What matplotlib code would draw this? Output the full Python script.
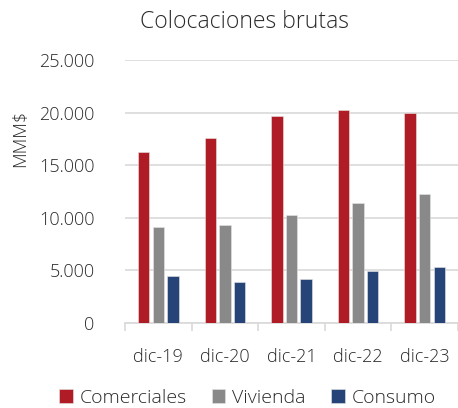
import matplotlib
matplotlib.use("Agg")
import matplotlib.pyplot as plt
import numpy as np

categories = ["dic-19", "dic-20", "dic-21", "dic-22", "dic-23"]
comerciales = [16230, 17560, 19690, 20260, 19940]
vivienda = [9140, 9330, 10290, 11370, 12260]
consumo = [4480, 3880, 4160, 4950, 5270]
yticks = [0, 5000, 10000, 15000, 20000, 25000]
ytick_labels = ["0", "5.000", "10.000", "15.000", "20.000", "25.000"]

plt.rcParams['font.family'] = ['Open Sans', 'DejaVu Sans']
plt.rcParams['font.weight'] = 'light'
text_color = "#2a2a2a"

fig = plt.figure(figsize=(4.58, 4.08), dpi=100)
ax = fig.add_axes([0.273, 0.209, 0.727, 0.643])

x = np.arange(len(categories))
w = 0.172
off = 0.22
series = [("Comerciales", comerciales, "#B01C26"),
          ("Vivienda", vivienda, "#898989"),
          ("Consumo", consumo, "#264478")]
for i, (name, vals, col) in enumerate(series):
    ax.bar(x + (i - 1) * off, vals, width=w, color=col, label=name,
           edgecolor="#e6e6e6", linewidth=0.4, zorder=3)

ax.set_xlim(-0.5, 4.5)
ax.set_ylim(0, 25000)
ax.set_yticks(yticks)
ax.set_yticklabels(ytick_labels)
ax.grid(axis='y', color="#D9D9D9", linewidth=1.2, zorder=0)
ax.set_axisbelow(True)
for s in ["top", "right", "left"]:
    ax.spines[s].set_visible(False)
ax.spines["bottom"].set_color("#D9D9D9")
ax.spines["bottom"].set_linewidth(1.2)
ax.spines["bottom"].set_zorder(1)

ax.set_xticks(x)
ax.set_xticklabels(categories)
ax.tick_params(axis='x', length=0, pad=18, labelsize=13, labelcolor=text_color)
ax.set_xticks(np.arange(-0.5, 5.0, 1.0), minor=True)
ax.tick_params(axis='x', which='minor', length=6, color="#D9D9D9", width=1.2)
ax.tick_params(axis='y', length=0, pad=22, labelsize=13, labelcolor=text_color)

fig.text(20 / 458, 1 - 138 / 408, "MMM$", rotation=90, ha='center', va='center',
         fontsize=13, color=text_color)
fig.text(0.533, 0.946, "Colocaciones brutas", ha='center', va='center',
         fontsize=16.5, color=text_color)

fig.legend(loc='center', bbox_to_anchor=(0.54, 0.025), ncol=3, frameon=False,
           handlelength=0.7, handleheight=0.7, handletextpad=0.35,
           columnspacing=1.3, fontsize=14, labelcolor=text_color)

fig.savefig("out.png", dpi=100)
